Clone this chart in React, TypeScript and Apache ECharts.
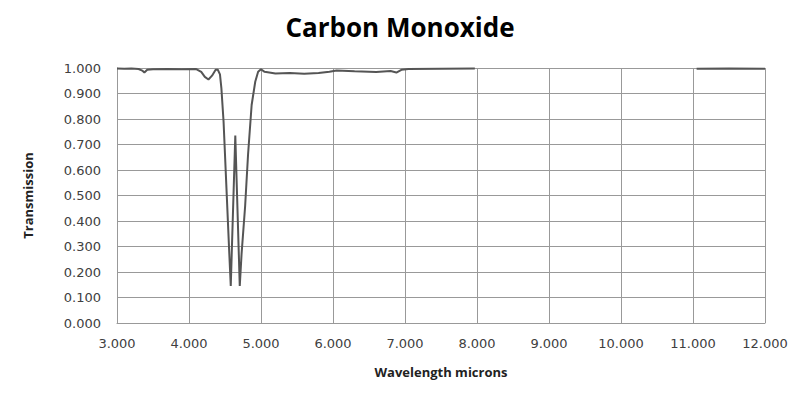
import React, { useEffect, useRef } from "react";
import * as echarts from "echarts";

const wavelength: (number | null)[] = [
  3.0, 3.1, 3.2, 3.3, 3.35, 3.38, 3.42, 3.5, 3.7, 3.9, 4.1, 4.17, 4.22, 4.27, 4.32, 4.37, 4.4, 4.43,
  4.45, 4.48, 4.52, 4.56, 4.58, 4.643, 4.705, 4.73, 4.78, 4.82, 4.87, 4.92, 4.96, 5.0, 5.05, 5.2,
  5.4, 5.6, 5.8, 5.95, 6.05, 6.3, 6.6, 6.8, 6.88, 6.95, 7.05, 7.5, 7.97, null, 11.05, 11.5, 12.0,
];
const transmission: (number | null)[] = [
  0.998, 0.997, 0.998, 0.996, 0.99, 0.982, 0.993, 0.995, 0.996, 0.995, 0.996, 0.985, 0.965, 0.955,
  0.97, 0.993, 0.993, 0.975, 0.92, 0.79, 0.53, 0.27, 0.145, 0.735, 0.145, 0.27, 0.46, 0.66, 0.855,
  0.946, 0.985, 0.995, 0.985, 0.978, 0.98, 0.977, 0.98, 0.985, 0.99, 0.987, 0.984, 0.988, 0.982,
  0.993, 0.996, 0.997, 0.998, null, 0.997, 0.998, 0.997,
];

const titleText = "Carbon Monoxide";
const xName = "Wavelength microns";
const yName = "Transmission";

export default function App() {
  const ref = useRef<HTMLDivElement>(null);
  useEffect(() => {
    if (!ref.current) return;
    const chart = echarts.init(ref.current, null, { renderer: "svg" });
    const data = wavelength.map((w, i) =>
      w === null ? [null, null] : [w, transmission[i]]
    );
    chart.setOption({
      animation: false,
      backgroundColor: "#ffffff",
      title: {
        text: titleText,
        left: "center",
        top: 9,
        textStyle: {
          fontFamily: "Open Sans",
          fontWeight: "bold",
          fontSize: 26,
          color: "#000000",
        },
      },
      grid: { left: 117, right: 35, top: 68, bottom: 74, containLabel: false },
      xAxis: {
        type: "value",
        min: 3,
        max: 12,
        interval: 1,
        name: xName,
        nameLocation: "middle",
        nameGap: 42,
        nameTextStyle: { fontFamily: "Open Sans", fontWeight: "bold", fontSize: 13, color: "#222" },
        axisLine: { show: true, lineStyle: { color: "#999", width: 1 } },
        axisTick: { show: false },
        splitLine: { show: true, lineStyle: { color: "#999", width: 1 } },
        axisLabel: {
          margin: 14,
          fontFamily: "DejaVu Sans",
          fontSize: 13,
          color: "#404040",
          formatter: (v: number) => v.toFixed(3),
        },
      },
      yAxis: {
        type: "value",
        min: 0,
        max: 1,
        interval: 0.1,
        name: yName,
        nameLocation: "middle",
        nameGap: 83,
        nameTextStyle: { fontFamily: "Open Sans", fontWeight: "bold", fontSize: 13, color: "#222" },
        axisLine: { show: true, lineStyle: { color: "#999", width: 1 } },
        axisTick: { show: false },
        splitLine: { show: true, lineStyle: { color: "#999", width: 1 } },
        axisLabel: {
          margin: 16,
          fontFamily: "DejaVu Sans",
          fontSize: 13,
          color: "#404040",
          formatter: (v: number) => v.toFixed(3),
        },
      },
      series: [
        {
          type: "line",
          data,
          showSymbol: false,
          connectNulls: false,
          smooth: false,
          lineStyle: { color: "#555555", width: 2 },
        },
      ],
    });
    return () => chart.dispose();
  }, []);
  return <div ref={ref} style={{ width: 800, height: 397, position: "absolute", left: 0, top: 0 }} />;
}
